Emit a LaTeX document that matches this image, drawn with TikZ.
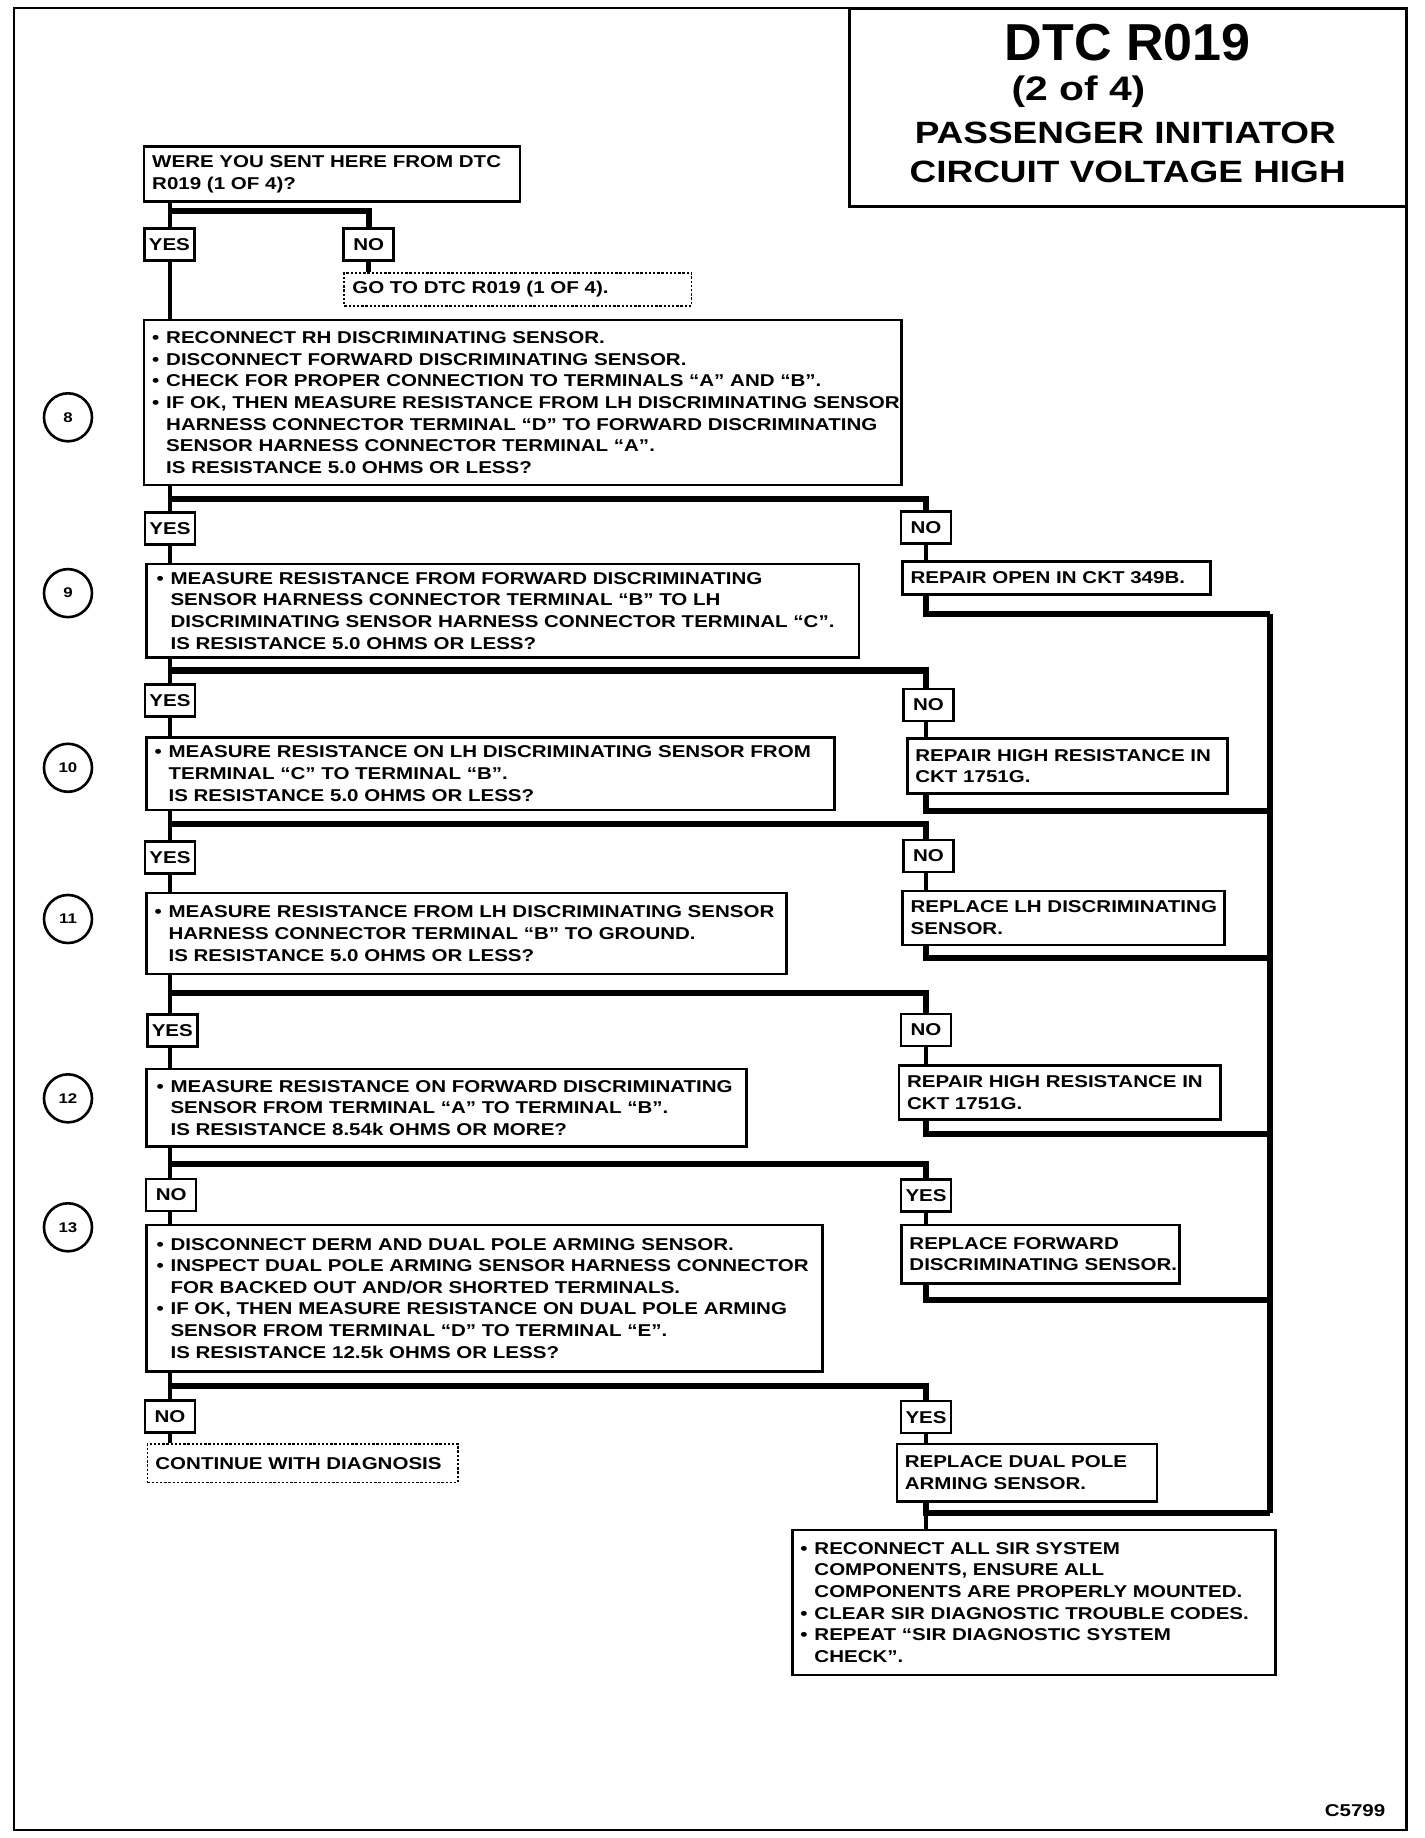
\documentclass[tikz,border=0pt]{standalone}
\usepackage{fontspec}
\setmainfont{Liberation Sans}[FakeStretch=1.2]
\newfontfamily\plainfont{Liberation Sans}
\newcommand\chartfont{\bfseries\fontsize{8.55}{10.8}\selectfont}
\newcommand\bul{\makebox[7pt][l]{\textbullet}}
\newcommand\indt{\hspace*{7pt}}
\tikzset{
  box/.style={draw, line width=1.2pt, anchor=north west, inner xsep=4pt, inner ysep=2pt,
    font=\chartfont, execute at begin node={\rightskip=0pt minus 40pt}},
  gobox/.style={box, line width=0.9pt, dash pattern=on 1.2pt off 0.9pt},
  yn/.style={draw, line width=1.2pt, fill=white, font=\chartfont, inner sep=1.5pt,
    minimum width=25pt, minimum height=16pt},
  stepnum/.style={circle, draw, line width=1.3pt, minimum size=24pt, inner sep=0pt,
    font=\bfseries\fontsize{7}{8}\selectfont},
  bar/.style={line width=3pt},
  lead/.style={line width=2.2pt},
}
\begin{document}
\begin{tikzpicture}[x=0.586pt,y=-0.586pt]
  \useasboundingbox (0,0) rectangle (1215,1568);
  \draw[line width=1.2pt] (12,7) rectangle (1200,1561);
  % title block
  \draw[line width=1.4pt] (725,7) rectangle (1200,176);
  \node[font=\plainfont\bfseries\fontsize{26}{28}\selectfont] (dtc) at (962,36) {DTC R019};
  \node[font=\bfseries\fontsize{17}{19}\selectfont] (part) at (920,78) {(2 of 4)};
  \node[font=\bfseries\fontsize{15.4}{17}\selectfont] (tt1) at (960,113) {PASSENGER INITIATOR};
  \node[font=\bfseries\fontsize{15.4}{17}\selectfont] (tt2) at (962,147) {CIRCUIT VOLTAGE HIGH};

  % question boxes
  \node[box, text width=180pt, minimum height=27.5pt] (q0) at (122,124)
    {WERE YOU SENT HERE FROM DTC\\R019 (1 OF 4)?};
  \node[gobox, text width=165.5pt, minimum height=16.4pt] (goto) at (293,232)
    {GO TO DTC R019 (1 OF 4).};
  \node[box, text width=370.6pt, minimum height=82.6pt] (b8) at (122,272)
    {\bul RECONNECT RH DISCRIMINATING SENSOR.\\
     \bul DISCONNECT FORWARD DISCRIMINATING SENSOR.\\
     \bul CHECK FOR PROPER CONNECTION TO TERMINALS “A” AND “B”.\\
     \bul IF OK, THEN MEASURE RESISTANCE FROM LH DISCRIMINATING SENSOR\\
     \indt HARNESS CONNECTOR TERMINAL “D” TO FORWARD DISCRIMINATING\\
     \indt SENSOR HARNESS CONNECTOR TERMINAL “A”.\\
     \indt IS RESISTANCE 5.0 OHMS OR LESS?};
  \node[box, text width=346.3pt, minimum height=46.9pt, inner xsep=5pt] (b9) at (124,480)
    {\bul MEASURE RESISTANCE FROM FORWARD DISCRIMINATING\\
     \indt SENSOR HARNESS CONNECTOR TERMINAL “B” TO LH\\
     \indt DISCRIMINATING SENSOR HARNESS CONNECTOR TERMINAL “C”.\\
     \indt IS RESISTANCE 5.0 OHMS OR LESS?};
  \node[box, text width=336pt, minimum height=36.3pt] (b10) at (124,628)
    {\bul MEASURE RESISTANCE ON LH DISCRIMINATING SENSOR FROM\\
     \indt TERMINAL “C” TO TERMINAL “B”.\\
     \indt IS RESISTANCE 5.0 OHMS OR LESS?};
  \node[box, text width=312pt, minimum height=40.4pt] (b11) at (124,761)
    {\bul MEASURE RESISTANCE FROM LH DISCRIMINATING SENSOR\\
     \indt HARNESS CONNECTOR TERMINAL “B” TO GROUND.\\
     \indt IS RESISTANCE 5.0 OHMS OR LESS?};
  \node[box, text width=290pt, minimum height=38.7pt, inner xsep=5pt] (b12) at (124,911)
    {\bul MEASURE RESISTANCE ON FORWARD DISCRIMINATING\\
     \indt SENSOR FROM TERMINAL “A” TO TERMINAL “B”.\\
     \indt IS RESISTANCE 8.54k OHMS OR MORE?};
  \node[box, text width=328pt, minimum height=73.3pt, inner xsep=5pt] (b13) at (124,1044)
    {\bul DISCONNECT DERM AND DUAL POLE ARMING SENSOR.\\
     \bul INSPECT DUAL POLE ARMING SENSOR HARNESS CONNECTOR\\
     \indt FOR BACKED OUT AND/OR SHORTED TERMINALS.\\
     \bul IF OK, THEN MEASURE RESISTANCE ON DUAL POLE ARMING\\
     \indt SENSOR FROM TERMINAL “D” TO TERMINAL “E”.\\
     \indt IS RESISTANCE 12.5k OHMS OR LESS?};
  \node[gobox, text width=147.3pt, minimum height=19.3pt] (cont) at (125,1231)
    {CONTINUE WITH DIAGNOSIS};

  % repair boxes
  \node[box, text width=146pt, minimum height=16.4pt] (fix8) at (769,478) {REPAIR OPEN IN CKT 349B.};
  \node[box, text width=152pt, minimum height=27.5pt] (fix9) at (773,629) {REPAIR HIGH RESISTANCE IN\\CKT 1751G.};
  \node[box, text width=153pt, minimum height=27pt] (fix10) at (769,759) {REPLACE LH DISCRIMINATING\\SENSOR.};
  \node[box, text width=152.6pt, minimum height=27pt] (fix11) at (766,908) {REPAIR HIGH RESISTANCE IN\\CKT 1751G.};
  \node[box, text width=131pt, minimum height=29.3pt] (fix12) at (768,1044) {REPLACE FORWARD\\DISCRIMINATING SENSOR.};
  \node[box, text width=122pt, minimum height=28.7pt] (fix13) at (764,1231) {REPLACE DUAL POLE\\ARMING SENSOR.};
  \node[box, text width=233.4pt, minimum height=72.7pt] (fin) at (675,1304)
    {\bul RECONNECT ALL SIR SYSTEM\\
     \indt COMPONENTS, ENSURE ALL\\
     \indt COMPONENTS ARE PROPERLY MOUNTED.\\
     \bul CLEAR SIR DIAGNOSTIC TROUBLE CODES.\\
     \bul REPEAT “SIR DIAGNOSTIC SYSTEM\\
     \indt CHECK”.};

  % step numbers
  \foreach \n/\y in {8/356,9/506,10/655,11/784,12/937,13/1047}
    \node[stepnum] (c\n) at (58,\y) {\n};

  % yes / no labels
  \node[yn] (yq0) at (144.5,208.5) {YES};
  \node[yn] (nq0) at (314.5,208.5) {NO};
  \node[yn] (y8) at (145,451) {YES};
  \node[yn] (y9) at (145,597.5) {YES};
  \node[yn] (y10) at (145,731.5) {YES};
  \node[yn] (y11) at (147,879) {YES};
  \node[yn] (n12) at (146,1019.5) {NO};
  \node[yn] (n13) at (145,1208.5) {NO};
  \node[yn] (n8) at (790,450) {NO};
  \node[yn] (n9) at (792,601.5) {NO};
  \node[yn] (n10) at (792,730) {NO};
  \node[yn] (n11) at (790,878.5) {NO};
  \node[yn] (y12) at (790,1020) {YES};
  \node[yn] (y13) at (790,1209) {YES};

  \coordinate (rcol) at (790,0);
  \coordinate (s0) at (145,180);
  \foreach \k/\y in {8/426,9/572,10/703,11/847,12/993,13/1182}
    \coordinate (s\k) at (145,\y);
  \foreach \k/\y in {8/524,9/692,10/817,11/967,12/1109,13/1291}
    \coordinate (j\k) at (1083,\y);

  % left column
  \foreach \a/\l/\b in {q0/yq0/b8,b8/y8/b9,b9/y9/b10,b10/y10/b11,b11/y11/b12,b12/n12/b13,b13/n13/cont}
    \draw[lead] (\a.south -| s0) -- (s0 |- \l.north) (s0 |- \l.south) -- (s0 |- \b.north);
  % branches
  \draw[bar] (s0) -| (nq0.north);
  \draw[lead] (nq0.south) -- (nq0 |- goto.north);
  \foreach \k/\r in {8/n8,9/n9,10/n10,11/n11,12/y12,13/y13} {
    \draw[bar] (s\k) -| (rcol |- \r.north);
    \draw[lead] (rcol |- \r.south) -- (rcol |- fix\k.north);
    \draw[bar] (fix\k.south -| rcol) |- (j\k);
  }
  \draw[bar] (j8) -- (j13);
  \draw[lead] (fix13.south -| rcol) -- (rcol |- fin.north);

  \node[font=\chartfont] (fig) at (1156,1545) {C5799};
\end{tikzpicture}
\end{document}
